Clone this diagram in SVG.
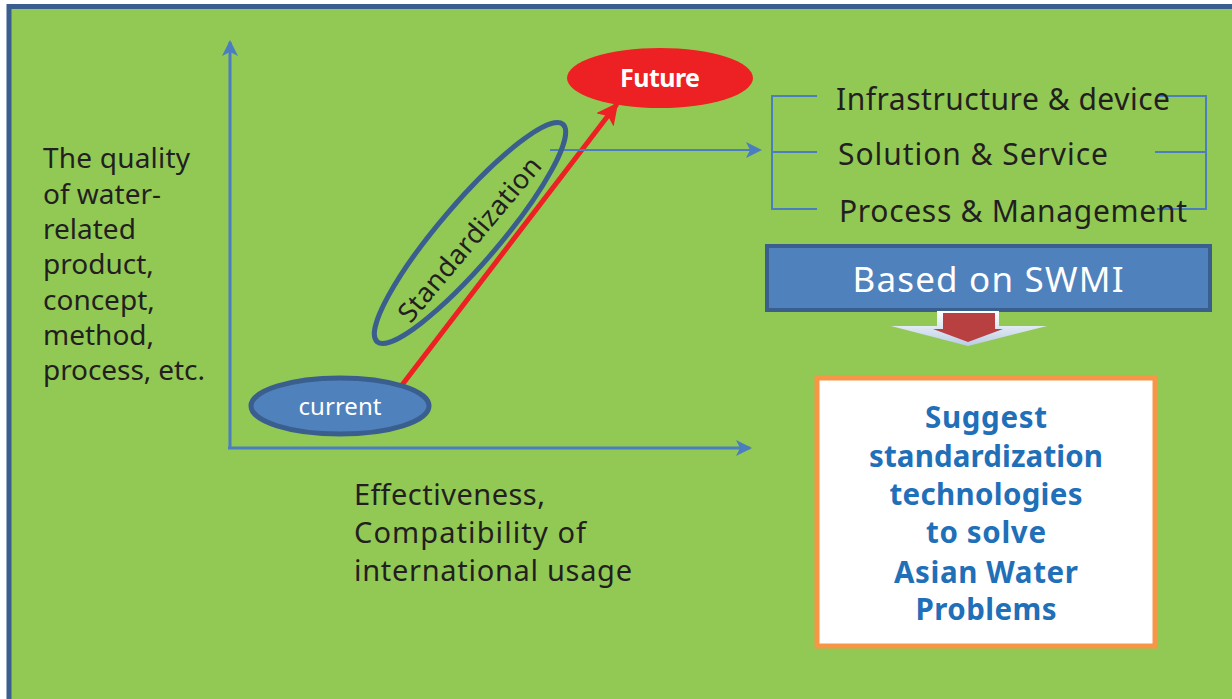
<svg xmlns="http://www.w3.org/2000/svg" width="1232" height="699" viewBox="0 0 1232 699">
<style>
.lbl{font-family:"Noto Sans","Open Sans","DejaVu Sans",sans-serif;fill:#231F20;}
.axis{stroke:#4A7EC0;stroke-width:3;fill:none;}
.brk{stroke:#4A7EC0;stroke-width:2;fill:none;}
.box{font-family:"Noto Sans","Open Sans","DejaVu Sans",sans-serif;font-weight:bold;fill:#1F70B8;font-size:29.5px;text-anchor:middle;}
</style>
<defs>
<marker id="ab" markerUnits="userSpaceOnUse" markerWidth="18" markerHeight="18" refX="14" refY="8" orient="auto">
<path d="M0,0 L16,8 L0,16 L4,8 Z" fill="#4A7EC0"/>
</marker>
<marker id="ar" markerUnits="userSpaceOnUse" markerWidth="26" markerHeight="26" refX="20" refY="11" orient="auto">
<path d="M0,0 L22,11 L0,22 L5,11 Z" fill="#ED2024"/>
</marker>
<linearGradient id="lg" x1="0" y1="0" x2="0" y2="1">
<stop offset="0" stop-color="#FFFFFF"/>
<stop offset="1" stop-color="#B9CDE5"/>
</linearGradient>
</defs>
<rect x="0" y="0" width="1232" height="699" fill="#FFFFFF"/>
<rect x="9" y="6.5" width="1240" height="720" fill="#92C954" stroke="#3A5F8F" stroke-width="5"/>

<g id="connectors">
<line class="axis" x1="230" y1="449" x2="230" y2="42" marker-end="url(#ab)"/>
<line class="axis" x1="228" y1="448" x2="750" y2="448" marker-end="url(#ab)"/>
<line x1="402" y1="385" x2="617" y2="104" stroke="#ED2024" stroke-width="5" marker-end="url(#ar)"/>
<line x1="550" y1="150" x2="760" y2="150" stroke="#4A7EC0" stroke-width="2" marker-end="url(#ab)"/>
</g>

<g id="y-label" class="lbl" font-size="28">
<text x="43" y="168" textLength="147">The quality</text>
<text x="43" y="203.5">of water-</text>
<text x="43" y="239">related</text>
<text x="43" y="274">product,</text>
<text x="43" y="309.5">concept,</text>
<text x="43" y="345">method,</text>
<text x="43" y="380" textLength="162">process, etc.</text>
</g>

<g id="x-label" class="lbl" font-size="29">
<text x="354" y="505" textLength="191">Effectiveness,</text>
<text x="354" y="543" textLength="232">Compatibility of</text>
<text x="354" y="581" textLength="278">international usage</text>
</g>

<g id="current">
<ellipse cx="340" cy="406" rx="89" ry="28" fill="#4F81BD" stroke="#3A5F8F" stroke-width="5"/>
<text x="340" y="415" font-family="Noto Sans,Open Sans,sans-serif" font-size="24" fill="#FFFFFF" text-anchor="middle" textLength="83">current</text>
</g>

<g id="future">
<ellipse cx="660" cy="78" rx="93" ry="30" fill="#ED2024"/>
<text x="660" y="87" font-family="Noto Sans,Open Sans,sans-serif" font-size="25" font-weight="bold" fill="#FFFFFF" text-anchor="middle" textLength="80">Future</text>
</g>

<g id="standardization">
<ellipse cx="0" cy="0" rx="143" ry="30" fill="none" stroke="#3A5F8F" stroke-width="5" transform="translate(470,233) rotate(-49.5)"/>
<text x="0" y="10" class="lbl" font-size="27" text-anchor="middle" textLength="206" transform="translate(469,239) rotate(-50)">Standardization</text>
</g>

<g id="categories">
<path class="brk" d="M817,96 H772 V209 H817 M772,152 H817"/>
<path class="brk" d="M1157,96 H1206 V209 H1157 M1155,152 H1206"/>
<text class="lbl" x="836" y="110" font-size="30" textLength="334">Infrastructure &amp; device</text>
<text class="lbl" x="838" y="165" font-size="30" textLength="270">Solution &amp; Service</text>
<text class="lbl" x="839" y="222" font-size="30" textLength="348">Process &amp; Management</text>
</g>

<g id="swmi">
<rect x="767" y="246" width="443" height="64" fill="#4F81BD" stroke="#3A5F8F" stroke-width="4"/>
<text x="988" y="292" font-family="Noto Sans,Open Sans,sans-serif" font-size="35" fill="#FFFFFF" text-anchor="middle" textLength="271">Based on SWMI</text>
</g>

<g id="down-arrow">
<polygon points="937,311 999,311 999,326 1047,326 968,346 891,326 937,326" fill="url(#lg)"/>
<polygon points="943,313 995,313 995,329 1003,329 968,342 933,329 943,329" fill="#B94040"/>
</g>

<g id="result">
<rect x="817" y="378" width="338" height="268" fill="#FFFFFF" stroke="#F79646" stroke-width="5"/>
<text class="box" x="986" y="428" textLength="122">Suggest</text>
<text class="box" x="986" y="467" textLength="234">standardization</text>
<text class="box" x="986" y="505" textLength="193">technologies</text>
<text class="box" x="986" y="543" textLength="120">to solve</text>
<text class="box" x="986" y="583" textLength="184">Asian Water</text>
<text class="box" x="986" y="620" textLength="141">Problems</text>
</g>
</svg>
